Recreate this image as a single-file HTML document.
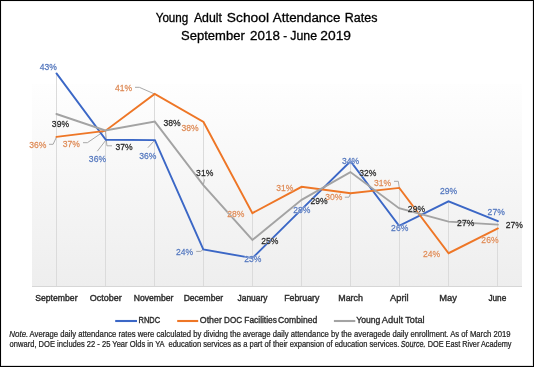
<!DOCTYPE html><html><head><meta charset="utf-8"><style>html,body{margin:0;padding:0;background:#fff;}svg{display:block;will-change:transform;}text{font-family:"Liberation Sans",sans-serif;white-space:pre;}</style></head><body>
<svg width="534" height="367" viewBox="0 0 534 367">
<defs><linearGradient id="pg" x1="0" y1="0" x2="0" y2="1"><stop offset="0" stop-color="#fefefe"/><stop offset="1" stop-color="#eeeeee"/></linearGradient></defs>
<rect x="0" y="0" width="534" height="367" fill="#fff"/>
<rect x="32" y="84" width="490" height="202" fill="url(#pg)"/>
<line x1="32" y1="286.5" x2="522" y2="286.5" stroke="#d6d6d6" stroke-width="1"/>
<line x1="56.5" y1="73.4" x2="56.5" y2="286" stroke="#dbdbdb" stroke-width="1"/>
<line x1="105.5" y1="130.5" x2="105.5" y2="286" stroke="#dbdbdb" stroke-width="1"/>
<line x1="154.5" y1="94" x2="154.5" y2="286" stroke="#dbdbdb" stroke-width="1"/>
<line x1="203.5" y1="122" x2="203.5" y2="286" stroke="#dbdbdb" stroke-width="1"/>
<line x1="252.5" y1="213.1" x2="252.5" y2="286" stroke="#dbdbdb" stroke-width="1"/>
<line x1="301.5" y1="186.8" x2="301.5" y2="286" stroke="#dbdbdb" stroke-width="1"/>
<line x1="350.5" y1="161.3" x2="350.5" y2="286" stroke="#dbdbdb" stroke-width="1"/>
<line x1="399.5" y1="187.9" x2="399.5" y2="286" stroke="#dbdbdb" stroke-width="1"/>
<line x1="448.5" y1="201.3" x2="448.5" y2="286" stroke="#dbdbdb" stroke-width="1"/>
<line x1="497.5" y1="221.1" x2="497.5" y2="286" stroke="#dbdbdb" stroke-width="1"/>
<polyline points="49,144.3 53.1,144.3 56.5,137" fill="none" stroke="#a8a8a8" stroke-width="1"/>
<polyline points="83,142.7 87.4,142.7 104,131.3" fill="none" stroke="#a8a8a8" stroke-width="1"/>
<polyline points="97.3,151.2 105.6,140.5" fill="none" stroke="#a8a8a8" stroke-width="1"/>
<polyline points="112,145.8 106.9,145.8 105.5,131" fill="none" stroke="#a8a8a8" stroke-width="1"/>
<polyline points="135,87.3 139.3,87.3 154.6,94" fill="none" stroke="#a8a8a8" stroke-width="1"/>
<polyline points="147.9,147.7 154.5,140.5" fill="none" stroke="#a8a8a8" stroke-width="1"/>
<polyline points="204.5,179.4 203.3,185" fill="none" stroke="#a8a8a8" stroke-width="1"/>
<polyline points="196.2,251.4 200.8,251.4 203,249.5" fill="none" stroke="#a8a8a8" stroke-width="1"/>
<polyline points="344.8,197.2 349,197.2 350.6,193.2" fill="none" stroke="#a8a8a8" stroke-width="1"/>
<polyline points="394,181.3 398.3,181.3 399.3,187.9" fill="none" stroke="#a8a8a8" stroke-width="1"/>
<polyline points="56.5,73.4 105.8,139.8 154.9,140.1 203.3,249.5 252.4,258.1 301.6,209.3 350.5,161.3 399.1,225.9 448.5,201.3 497.9,221.1" fill="none" stroke="#3b67c6" stroke-width="1.9" stroke-linejoin="miter" stroke-linecap="round"/>
<polyline points="56.5,136.9 105.2,130.9 154.7,94 203.5,122 252.4,213.1 301.6,186.8 350.6,193.3 399.3,187.9 448.6,253.2 497.9,228.4" fill="none" stroke="#ee7626" stroke-width="1.9" stroke-linejoin="miter" stroke-linecap="round"/>
<polyline points="56.4,114 105.3,130.5 154.8,121.6 203.3,185.2 252.4,240 301.6,199.8 350.4,172.1 399,208.2 448.6,221.6 497.9,224.6" fill="none" stroke="#a3a3a3" stroke-width="1.9" stroke-linejoin="miter" stroke-linecap="round"/>
<text transform="translate(39.77,70.2) scale(1,1.156)" font-size="8.58" fill="#fff" stroke="#fff" stroke-width="0.9" stroke-opacity="0.45" stroke-linejoin="round" font-weight="normal" font-style="normal" textLength="17.17" lengthAdjust="spacingAndGlyphs">43%</text>
<text transform="translate(39.77,70.2) scale(1,1.156)" font-size="8.58" fill="#5477bd" font-weight="normal" font-style="normal" stroke="#5477bd" stroke-width="0.22" textLength="17.17" lengthAdjust="spacingAndGlyphs">43%</text>
<text transform="translate(88.87,162) scale(1,1.156)" font-size="8.58" fill="#fff" stroke="#fff" stroke-width="0.9" stroke-opacity="0.45" stroke-linejoin="round" font-weight="normal" font-style="normal" textLength="17.17" lengthAdjust="spacingAndGlyphs">36%</text>
<text transform="translate(88.87,162) scale(1,1.156)" font-size="8.58" fill="#5477bd" font-weight="normal" font-style="normal" stroke="#5477bd" stroke-width="0.22" textLength="17.17" lengthAdjust="spacingAndGlyphs">36%</text>
<text transform="translate(139.17,158.9) scale(1,1.156)" font-size="8.58" fill="#fff" stroke="#fff" stroke-width="0.9" stroke-opacity="0.45" stroke-linejoin="round" font-weight="normal" font-style="normal" textLength="17.17" lengthAdjust="spacingAndGlyphs">36%</text>
<text transform="translate(139.17,158.9) scale(1,1.156)" font-size="8.58" fill="#5477bd" font-weight="normal" font-style="normal" stroke="#5477bd" stroke-width="0.22" textLength="17.17" lengthAdjust="spacingAndGlyphs">36%</text>
<text transform="translate(176.07,255) scale(1,1.156)" font-size="8.58" fill="#fff" stroke="#fff" stroke-width="0.9" stroke-opacity="0.45" stroke-linejoin="round" font-weight="normal" font-style="normal" textLength="17.17" lengthAdjust="spacingAndGlyphs">24%</text>
<text transform="translate(176.07,255) scale(1,1.156)" font-size="8.58" fill="#5477bd" font-weight="normal" font-style="normal" stroke="#5477bd" stroke-width="0.22" textLength="17.17" lengthAdjust="spacingAndGlyphs">24%</text>
<text transform="translate(244.32,262) scale(1,1.156)" font-size="8.58" fill="#fff" stroke="#fff" stroke-width="0.9" stroke-opacity="0.45" stroke-linejoin="round" font-weight="normal" font-style="normal" textLength="17.17" lengthAdjust="spacingAndGlyphs">23%</text>
<text transform="translate(244.32,262) scale(1,1.156)" font-size="8.58" fill="#5477bd" font-weight="normal" font-style="normal" stroke="#5477bd" stroke-width="0.22" textLength="17.17" lengthAdjust="spacingAndGlyphs">23%</text>
<text transform="translate(293.27,213.1) scale(1,1.156)" font-size="8.58" fill="#fff" stroke="#fff" stroke-width="0.9" stroke-opacity="0.45" stroke-linejoin="round" font-weight="normal" font-style="normal" textLength="17.17" lengthAdjust="spacingAndGlyphs">28%</text>
<text transform="translate(293.27,213.1) scale(1,1.156)" font-size="8.58" fill="#5477bd" font-weight="normal" font-style="normal" stroke="#5477bd" stroke-width="0.22" textLength="17.17" lengthAdjust="spacingAndGlyphs">28%</text>
<text transform="translate(341.97,163.8) scale(1,1.156)" font-size="8.58" fill="#fff" stroke="#fff" stroke-width="0.9" stroke-opacity="0.45" stroke-linejoin="round" font-weight="normal" font-style="normal" textLength="17.17" lengthAdjust="spacingAndGlyphs">34%</text>
<text transform="translate(341.97,163.8) scale(1,1.156)" font-size="8.58" fill="#5477bd" font-weight="normal" font-style="normal" stroke="#5477bd" stroke-width="0.22" textLength="17.17" lengthAdjust="spacingAndGlyphs">34%</text>
<text transform="translate(391.12,230.8) scale(1,1.156)" font-size="8.58" fill="#fff" stroke="#fff" stroke-width="0.9" stroke-opacity="0.45" stroke-linejoin="round" font-weight="normal" font-style="normal" textLength="17.17" lengthAdjust="spacingAndGlyphs">26%</text>
<text transform="translate(391.12,230.8) scale(1,1.156)" font-size="8.58" fill="#5477bd" font-weight="normal" font-style="normal" stroke="#5477bd" stroke-width="0.22" textLength="17.17" lengthAdjust="spacingAndGlyphs">26%</text>
<text transform="translate(440.02,193.9) scale(1,1.156)" font-size="8.58" fill="#fff" stroke="#fff" stroke-width="0.9" stroke-opacity="0.45" stroke-linejoin="round" font-weight="normal" font-style="normal" textLength="17.17" lengthAdjust="spacingAndGlyphs">29%</text>
<text transform="translate(440.02,193.9) scale(1,1.156)" font-size="8.58" fill="#5477bd" font-weight="normal" font-style="normal" stroke="#5477bd" stroke-width="0.22" textLength="17.17" lengthAdjust="spacingAndGlyphs">29%</text>
<text transform="translate(487.62,214.7) scale(1,1.156)" font-size="8.58" fill="#fff" stroke="#fff" stroke-width="0.9" stroke-opacity="0.45" stroke-linejoin="round" font-weight="normal" font-style="normal" textLength="17.17" lengthAdjust="spacingAndGlyphs">27%</text>
<text transform="translate(487.62,214.7) scale(1,1.156)" font-size="8.58" fill="#5477bd" font-weight="normal" font-style="normal" stroke="#5477bd" stroke-width="0.22" textLength="17.17" lengthAdjust="spacingAndGlyphs">27%</text>
<text transform="translate(29.17,147.8) scale(1,1.156)" font-size="8.58" fill="#fff" stroke="#fff" stroke-width="0.9" stroke-opacity="0.45" stroke-linejoin="round" font-weight="normal" font-style="normal" textLength="17.17" lengthAdjust="spacingAndGlyphs">36%</text>
<text transform="translate(29.17,147.8) scale(1,1.156)" font-size="8.58" fill="#dd8a56" font-weight="normal" font-style="normal" stroke="#dd8a56" stroke-width="0.22" textLength="17.17" lengthAdjust="spacingAndGlyphs">36%</text>
<text transform="translate(62.82,146.6) scale(1,1.156)" font-size="8.58" fill="#fff" stroke="#fff" stroke-width="0.9" stroke-opacity="0.45" stroke-linejoin="round" font-weight="normal" font-style="normal" textLength="17.17" lengthAdjust="spacingAndGlyphs">37%</text>
<text transform="translate(62.82,146.6) scale(1,1.156)" font-size="8.58" fill="#dd8a56" font-weight="normal" font-style="normal" stroke="#dd8a56" stroke-width="0.22" textLength="17.17" lengthAdjust="spacingAndGlyphs">37%</text>
<text transform="translate(115.02,91) scale(1,1.156)" font-size="8.58" fill="#fff" stroke="#fff" stroke-width="0.9" stroke-opacity="0.45" stroke-linejoin="round" font-weight="normal" font-style="normal" textLength="17.17" lengthAdjust="spacingAndGlyphs">41%</text>
<text transform="translate(115.02,91) scale(1,1.156)" font-size="8.58" fill="#dd8a56" font-weight="normal" font-style="normal" stroke="#dd8a56" stroke-width="0.22" textLength="17.17" lengthAdjust="spacingAndGlyphs">41%</text>
<text transform="translate(181.52,130.8) scale(1,1.156)" font-size="8.58" fill="#fff" stroke="#fff" stroke-width="0.9" stroke-opacity="0.45" stroke-linejoin="round" font-weight="normal" font-style="normal" textLength="17.17" lengthAdjust="spacingAndGlyphs">38%</text>
<text transform="translate(181.52,130.8) scale(1,1.156)" font-size="8.58" fill="#dd8a56" font-weight="normal" font-style="normal" stroke="#dd8a56" stroke-width="0.22" textLength="17.17" lengthAdjust="spacingAndGlyphs">38%</text>
<text transform="translate(227.32,216.8) scale(1,1.156)" font-size="8.58" fill="#fff" stroke="#fff" stroke-width="0.9" stroke-opacity="0.45" stroke-linejoin="round" font-weight="normal" font-style="normal" textLength="17.17" lengthAdjust="spacingAndGlyphs">28%</text>
<text transform="translate(227.32,216.8) scale(1,1.156)" font-size="8.58" fill="#dd8a56" font-weight="normal" font-style="normal" stroke="#dd8a56" stroke-width="0.22" textLength="17.17" lengthAdjust="spacingAndGlyphs">28%</text>
<text transform="translate(276.27,191.1) scale(1,1.156)" font-size="8.58" fill="#fff" stroke="#fff" stroke-width="0.9" stroke-opacity="0.45" stroke-linejoin="round" font-weight="normal" font-style="normal" textLength="17.17" lengthAdjust="spacingAndGlyphs">31%</text>
<text transform="translate(276.27,191.1) scale(1,1.156)" font-size="8.58" fill="#dd8a56" font-weight="normal" font-style="normal" stroke="#dd8a56" stroke-width="0.22" textLength="17.17" lengthAdjust="spacingAndGlyphs">31%</text>
<text transform="translate(325.32,200.4) scale(1,1.156)" font-size="8.58" fill="#fff" stroke="#fff" stroke-width="0.9" stroke-opacity="0.45" stroke-linejoin="round" font-weight="normal" font-style="normal" textLength="17.17" lengthAdjust="spacingAndGlyphs">30%</text>
<text transform="translate(325.32,200.4) scale(1,1.156)" font-size="8.58" fill="#dd8a56" font-weight="normal" font-style="normal" stroke="#dd8a56" stroke-width="0.22" textLength="17.17" lengthAdjust="spacingAndGlyphs">30%</text>
<text transform="translate(373.97,185.6) scale(1,1.156)" font-size="8.58" fill="#fff" stroke="#fff" stroke-width="0.9" stroke-opacity="0.45" stroke-linejoin="round" font-weight="normal" font-style="normal" textLength="17.17" lengthAdjust="spacingAndGlyphs">31%</text>
<text transform="translate(373.97,185.6) scale(1,1.156)" font-size="8.58" fill="#dd8a56" font-weight="normal" font-style="normal" stroke="#dd8a56" stroke-width="0.22" textLength="17.17" lengthAdjust="spacingAndGlyphs">31%</text>
<text transform="translate(422.97,257) scale(1,1.156)" font-size="8.58" fill="#fff" stroke="#fff" stroke-width="0.9" stroke-opacity="0.45" stroke-linejoin="round" font-weight="normal" font-style="normal" textLength="17.17" lengthAdjust="spacingAndGlyphs">24%</text>
<text transform="translate(422.97,257) scale(1,1.156)" font-size="8.58" fill="#dd8a56" font-weight="normal" font-style="normal" stroke="#dd8a56" stroke-width="0.22" textLength="17.17" lengthAdjust="spacingAndGlyphs">24%</text>
<text transform="translate(481.37,242.5) scale(1,1.156)" font-size="8.58" fill="#fff" stroke="#fff" stroke-width="0.9" stroke-opacity="0.45" stroke-linejoin="round" font-weight="normal" font-style="normal" textLength="17.17" lengthAdjust="spacingAndGlyphs">26%</text>
<text transform="translate(481.37,242.5) scale(1,1.156)" font-size="8.58" fill="#dd8a56" font-weight="normal" font-style="normal" stroke="#dd8a56" stroke-width="0.22" textLength="17.17" lengthAdjust="spacingAndGlyphs">26%</text>
<text transform="translate(51.87,126.5) scale(1,1.156)" font-size="8.58" fill="#fff" stroke="#fff" stroke-width="0.9" stroke-opacity="0.45" stroke-linejoin="round" font-weight="normal" font-style="normal" textLength="17.17" lengthAdjust="spacingAndGlyphs">39%</text>
<text transform="translate(51.87,126.5) scale(1,1.156)" font-size="8.58" fill="#262626" font-weight="normal" font-style="normal" stroke="#262626" stroke-width="0.22" textLength="17.17" lengthAdjust="spacingAndGlyphs">39%</text>
<text transform="translate(115.52,149.7) scale(1,1.156)" font-size="8.58" fill="#fff" stroke="#fff" stroke-width="0.9" stroke-opacity="0.45" stroke-linejoin="round" font-weight="normal" font-style="normal" textLength="17.17" lengthAdjust="spacingAndGlyphs">37%</text>
<text transform="translate(115.52,149.7) scale(1,1.156)" font-size="8.58" fill="#262626" font-weight="normal" font-style="normal" stroke="#262626" stroke-width="0.22" textLength="17.17" lengthAdjust="spacingAndGlyphs">37%</text>
<text transform="translate(163.42,125.5) scale(1,1.156)" font-size="8.58" fill="#fff" stroke="#fff" stroke-width="0.9" stroke-opacity="0.45" stroke-linejoin="round" font-weight="normal" font-style="normal" textLength="17.17" lengthAdjust="spacingAndGlyphs">38%</text>
<text transform="translate(163.42,125.5) scale(1,1.156)" font-size="8.58" fill="#262626" font-weight="normal" font-style="normal" stroke="#262626" stroke-width="0.22" textLength="17.17" lengthAdjust="spacingAndGlyphs">38%</text>
<text transform="translate(196.12,175.6) scale(1,1.156)" font-size="8.58" fill="#fff" stroke="#fff" stroke-width="0.9" stroke-opacity="0.45" stroke-linejoin="round" font-weight="normal" font-style="normal" textLength="17.17" lengthAdjust="spacingAndGlyphs">31%</text>
<text transform="translate(196.12,175.6) scale(1,1.156)" font-size="8.58" fill="#262626" font-weight="normal" font-style="normal" stroke="#262626" stroke-width="0.22" textLength="17.17" lengthAdjust="spacingAndGlyphs">31%</text>
<text transform="translate(261.27,244) scale(1,1.156)" font-size="8.58" fill="#fff" stroke="#fff" stroke-width="0.9" stroke-opacity="0.45" stroke-linejoin="round" font-weight="normal" font-style="normal" textLength="17.17" lengthAdjust="spacingAndGlyphs">25%</text>
<text transform="translate(261.27,244) scale(1,1.156)" font-size="8.58" fill="#262626" font-weight="normal" font-style="normal" stroke="#262626" stroke-width="0.22" textLength="17.17" lengthAdjust="spacingAndGlyphs">25%</text>
<text transform="translate(310.57,203.5) scale(1,1.156)" font-size="8.58" fill="#fff" stroke="#fff" stroke-width="0.9" stroke-opacity="0.45" stroke-linejoin="round" font-weight="normal" font-style="normal" textLength="17.17" lengthAdjust="spacingAndGlyphs">29%</text>
<text transform="translate(310.57,203.5) scale(1,1.156)" font-size="8.58" fill="#262626" font-weight="normal" font-style="normal" stroke="#262626" stroke-width="0.22" textLength="17.17" lengthAdjust="spacingAndGlyphs">29%</text>
<text transform="translate(359.27,175.7) scale(1,1.156)" font-size="8.58" fill="#fff" stroke="#fff" stroke-width="0.9" stroke-opacity="0.45" stroke-linejoin="round" font-weight="normal" font-style="normal" textLength="17.17" lengthAdjust="spacingAndGlyphs">32%</text>
<text transform="translate(359.27,175.7) scale(1,1.156)" font-size="8.58" fill="#262626" font-weight="normal" font-style="normal" stroke="#262626" stroke-width="0.22" textLength="17.17" lengthAdjust="spacingAndGlyphs">32%</text>
<text transform="translate(407.87,211.9) scale(1,1.156)" font-size="8.58" fill="#fff" stroke="#fff" stroke-width="0.9" stroke-opacity="0.45" stroke-linejoin="round" font-weight="normal" font-style="normal" textLength="17.17" lengthAdjust="spacingAndGlyphs">29%</text>
<text transform="translate(407.87,211.9) scale(1,1.156)" font-size="8.58" fill="#262626" font-weight="normal" font-style="normal" stroke="#262626" stroke-width="0.22" textLength="17.17" lengthAdjust="spacingAndGlyphs">29%</text>
<text transform="translate(457.12,226.3) scale(1,1.156)" font-size="8.58" fill="#fff" stroke="#fff" stroke-width="0.9" stroke-opacity="0.45" stroke-linejoin="round" font-weight="normal" font-style="normal" textLength="17.17" lengthAdjust="spacingAndGlyphs">27%</text>
<text transform="translate(457.12,226.3) scale(1,1.156)" font-size="8.58" fill="#262626" font-weight="normal" font-style="normal" stroke="#262626" stroke-width="0.22" textLength="17.17" lengthAdjust="spacingAndGlyphs">27%</text>
<text transform="translate(505.67,228) scale(1,1.156)" font-size="8.58" fill="#fff" stroke="#fff" stroke-width="0.9" stroke-opacity="0.45" stroke-linejoin="round" font-weight="normal" font-style="normal" textLength="17.17" lengthAdjust="spacingAndGlyphs">27%</text>
<text transform="translate(505.67,228) scale(1,1.156)" font-size="8.58" fill="#262626" font-weight="normal" font-style="normal" stroke="#262626" stroke-width="0.22" textLength="17.17" lengthAdjust="spacingAndGlyphs">27%</text>
<text transform="translate(155.72,22.4) scale(1,1.093)" font-size="11.62" fill="#000" font-weight="normal" font-style="normal" stroke="#000" stroke-width="0.3" textLength="32.55" lengthAdjust="spacingAndGlyphs">Young</text>
<text transform="translate(193.88,22.4) scale(1,1.031)" font-size="12.33" fill="#000" font-weight="normal" font-style="normal" stroke="#000" stroke-width="0.3" textLength="28.11" lengthAdjust="spacingAndGlyphs">Adult</text>
<text transform="translate(226.81,22.4) scale(1,0.920)" font-size="13.82" fill="#000" font-weight="normal" font-style="normal" stroke="#000" stroke-width="0.3" textLength="42.24" lengthAdjust="spacingAndGlyphs">School</text>
<text transform="translate(272.83,22.4) scale(1,0.953)" font-size="13.34" fill="#000" font-weight="normal" font-style="normal" stroke="#000" stroke-width="0.3" textLength="67.5" lengthAdjust="spacingAndGlyphs">Attendance</text>
<text transform="translate(344.78,22.4) scale(1,1.018)" font-size="12.49" fill="#000" font-weight="normal" font-style="normal" stroke="#000" stroke-width="0.3" textLength="32.62" lengthAdjust="spacingAndGlyphs">Rates</text>
<text transform="translate(181.05,40.1) scale(1,0.998)" font-size="13.02" fill="#000" font-weight="normal" font-style="normal" stroke="#000" stroke-width="0.3" textLength="63.67" lengthAdjust="spacingAndGlyphs">September</text>
<text transform="translate(250.03,40.1) scale(1,0.969)" font-size="13.4" fill="#000" font-weight="normal" font-style="normal" stroke="#000" stroke-width="0.3" textLength="29.81" lengthAdjust="spacingAndGlyphs">2018</text>
<text transform="translate(283.22,40.1) scale(1,1.128)" font-size="11.52" fill="#000" font-weight="normal" font-style="normal" stroke="#000" stroke-width="0.3" textLength="3.84" lengthAdjust="spacingAndGlyphs">-</text>
<text transform="translate(290.28,40.1) scale(1,1.055)" font-size="12.32" fill="#000" font-weight="normal" font-style="normal" stroke="#000" stroke-width="0.3" textLength="26.71" lengthAdjust="spacingAndGlyphs">June</text>
<text transform="translate(320.31,40.1) scale(1,0.940)" font-size="13.82" fill="#000" font-weight="normal" font-style="normal" stroke="#000" stroke-width="0.3" textLength="30.74" lengthAdjust="spacingAndGlyphs">2019</text>
<text transform="translate(35.17,301.4) scale(1,1.016)" font-size="8.66" fill="#2e2e2e" font-weight="normal" font-style="normal" stroke="#2e2e2e" stroke-width="0.4" textLength="42.38" lengthAdjust="spacingAndGlyphs">September</text>
<text transform="translate(89.75,301.4) scale(1,0.975)" font-size="9.03" fill="#2e2e2e" font-weight="normal" font-style="normal" stroke="#2e2e2e" stroke-width="0.4" textLength="32.11" lengthAdjust="spacingAndGlyphs">October</text>
<text transform="translate(133.67,301.4) scale(1,1.023)" font-size="8.6" fill="#2e2e2e" font-weight="normal" font-style="normal" stroke="#2e2e2e" stroke-width="0.4" textLength="39.67" lengthAdjust="spacingAndGlyphs">November</text>
<text transform="translate(183.67,301.4) scale(1,1.031)" font-size="8.53" fill="#2e2e2e" font-weight="normal" font-style="normal" stroke="#2e2e2e" stroke-width="0.4" textLength="39.37" lengthAdjust="spacingAndGlyphs">December</text>
<text transform="translate(237.58,301.4) scale(1,1.049)" font-size="8.39" fill="#2e2e2e" font-weight="normal" font-style="normal" stroke="#2e2e2e" stroke-width="0.4" textLength="29.86" lengthAdjust="spacingAndGlyphs">January</text>
<text transform="translate(284.26,301.4) scale(1,1.003)" font-size="8.77" fill="#2e2e2e" font-weight="normal" font-style="normal" stroke="#2e2e2e" stroke-width="0.4" textLength="35.09" lengthAdjust="spacingAndGlyphs">February</text>
<text transform="translate(338.26,301.4) scale(1,0.990)" font-size="8.89" fill="#2e2e2e" font-weight="normal" font-style="normal" stroke="#2e2e2e" stroke-width="0.4" textLength="24.7" lengthAdjust="spacingAndGlyphs">March</text>
<text transform="translate(390.03,301.4) scale(1,0.944)" font-size="9.32" fill="#2e2e2e" font-weight="normal" font-style="normal" stroke="#2e2e2e" stroke-width="0.4" textLength="18.64" lengthAdjust="spacingAndGlyphs">April</text>
<text transform="translate(439.33,301.4) scale(1,0.942)" font-size="9.34" fill="#2e2e2e" font-weight="normal" font-style="normal" stroke="#2e2e2e" stroke-width="0.4" textLength="17.64" lengthAdjust="spacingAndGlyphs">May</text>
<text transform="translate(488.39,301.4) scale(1,1.070)" font-size="8.23" fill="#2e2e2e" font-weight="normal" font-style="normal" stroke="#2e2e2e" stroke-width="0.4" textLength="17.84" lengthAdjust="spacingAndGlyphs">June</text>
<line x1="115.2" y1="321" x2="137" y2="321" stroke="#3b67c6" stroke-width="2.1"/>
<line x1="177.2" y1="321" x2="198.2" y2="321" stroke="#ee7626" stroke-width="2.1"/>
<line x1="333.9" y1="321" x2="355.3" y2="321" stroke="#a3a3a3" stroke-width="2.1"/>
<text transform="translate(138.52,323.3) scale(1,1.173)" font-size="7.5" fill="#2a2a2a" font-weight="normal" font-style="normal" stroke="#2a2a2a" stroke-width="0.32" textLength="21.68" lengthAdjust="spacingAndGlyphs">RNDC</text>
<text transform="translate(199.76,323.3) scale(1,0.996)" font-size="8.83" fill="#2a2a2a" font-weight="normal" font-style="normal" stroke="#2a2a2a" stroke-width="0.32" textLength="22.1" lengthAdjust="spacingAndGlyphs">Other</text>
<text transform="translate(224.1,323.3) scale(1,1.091)" font-size="8.07" fill="#2a2a2a" font-weight="normal" font-style="normal" stroke="#2a2a2a" stroke-width="0.32" textLength="17.93" lengthAdjust="spacingAndGlyphs">DOC</text>
<text transform="translate(244.28,323.3) scale(1,1.048)" font-size="8.4" fill="#2a2a2a" font-weight="normal" font-style="normal" stroke="#2a2a2a" stroke-width="0.32" textLength="32.66" lengthAdjust="spacingAndGlyphs">Facilities</text>
<text transform="translate(278.07,323.3) scale(1,1.024)" font-size="8.59" fill="#2a2a2a" font-weight="normal" font-style="normal" stroke="#2a2a2a" stroke-width="0.32" textLength="39.17" lengthAdjust="spacingAndGlyphs">Combined</text>
<text transform="translate(356.27,323.3) scale(1,1.023)" font-size="8.6" fill="#2a2a2a" font-weight="normal" font-style="normal" stroke="#2a2a2a" stroke-width="0.32" textLength="24.07" lengthAdjust="spacingAndGlyphs">Young</text>
<text transform="translate(381.73,323.3) scale(1,0.940)" font-size="9.36" fill="#2a2a2a" font-weight="normal" font-style="normal" stroke="#2a2a2a" stroke-width="0.32" textLength="21.34" lengthAdjust="spacingAndGlyphs">Adult</text>
<text transform="translate(405.24,323.3) scale(1,0.962)" font-size="9.15" fill="#2a2a2a" font-weight="normal" font-style="normal" stroke="#2a2a2a" stroke-width="0.32" textLength="19.32" lengthAdjust="spacingAndGlyphs">Total</text>
<text transform="translate(9.3,336.8) scale(1,1.053)" font-size="7.96" fill="#222" font-weight="normal" font-style="italic" stroke="#222" stroke-width="0.2" textLength="19.02" lengthAdjust="spacingAndGlyphs">Note.</text>
<text transform="translate(29.62,336.8) scale(1,1.089)" font-size="7.69" fill="#222" font-weight="normal" font-style="normal" stroke="#222" stroke-width="0.2" textLength="480.89" lengthAdjust="spacingAndGlyphs">Average daily attendance rates were calculated by dividng the average daily attendance by the averagede daily enrollment. As of March 2019</text>
<text transform="translate(9.62,346.8) scale(1,1.196)" font-size="7.59" fill="#222" font-weight="normal" font-style="normal" stroke="#222" stroke-width="0.2" textLength="389.68" lengthAdjust="spacingAndGlyphs">onward, DOE includes 22 - 25 Year Olds in YA  education services as a part of their expansion of education services.</text>
<text transform="translate(400.74,346.8) scale(1,1.264)" font-size="7.18" fill="#222" font-weight="normal" font-style="italic" stroke="#222" stroke-width="0.2" textLength="24.75" lengthAdjust="spacingAndGlyphs">Source.</text>
<text transform="translate(427.73,346.8) scale(1,1.241)" font-size="7.32" fill="#222" font-weight="normal" font-style="normal" stroke="#222" stroke-width="0.2" textLength="83.76" lengthAdjust="spacingAndGlyphs">DOE East River Academy</text>
<rect x="0" y="1" width="534" height="1" fill="#f2f2f2"/>
<rect x="1" y="0" width="1" height="367" fill="#f2f2f2"/>
<rect x="532" y="0" width="1" height="367" fill="#e6e6e6"/>
<rect x="0" y="365" width="534" height="1" fill="#e0e0e0"/>
<rect x="0" y="0" width="534" height="1" fill="#000"/>
<rect x="0" y="0" width="1" height="367" fill="#000"/>
<rect x="533" y="0" width="1" height="367" fill="#000"/>
<rect x="0" y="366" width="534" height="1" fill="#000"/>
</svg></body></html>
